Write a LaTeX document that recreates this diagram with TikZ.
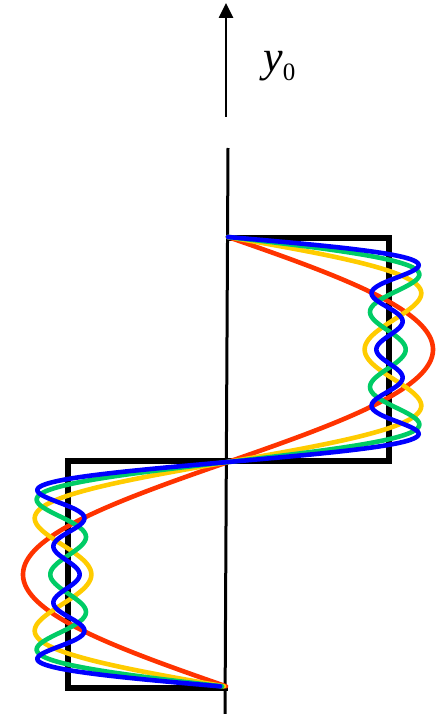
\documentclass[tikz,border=0pt]{standalone}
\usepackage{fontspec}
\setmainfont{Liberation Serif}
\usepackage{tikz}
\usetikzlibrary{arrows.meta}
\definecolor{onecol}{HTML}{FF3300}
\definecolor{twocol}{HTML}{FFCC00}
\definecolor{threecol}{HTML}{00CC66}
\definecolor{fourcol}{HTML}{0000FF}
\newcommand{\amp}{205}
\newcommand{\partsum}[2]{\draw[#1,line width=4.6pt,line cap=round] plot[smooth,domain=0:2,samples=400,variable=\t] ({228+\amp*(#2)},{237+225*\t});}

\begin{document}
\begin{tikzpicture}[x=1pt,y=-1pt]
\useasboundingbox (0,0) rectangle (443,714);
% axis
\coordinate (axtop) at (228,148);
\coordinate (axbot) at (225,714);
\coordinate (arrbot) at (226,117);
\coordinate (arrtip) at (226,3);
\draw[line width=3pt] (axtop) -- (axbot);
\draw[line width=2.6pt,-{Triangle[length=15pt,width=14pt]}] (arrbot) -- (arrtip);
\node[anchor=base west,inner sep=0pt,font=\fontsize{44}{48}\selectfont] (ylbl) at (263,72) {\textit{y}\raisebox{-9pt}{\fontsize{25}{28}\selectfont 0}};

% square wave
\draw[line width=5.5pt,miter limit=10] (228,238) -- (389,238) -- (389,461) -- (68,461) -- (68,688) -- (228,688);

% partial sums
\partsum{onecol}{sin(180*\t)}
\partsum{twocol}{sin(180*\t)+sin(540*\t)/3}
\partsum{threecol}{sin(180*\t)+sin(540*\t)/3+sin(900*\t)/5}
\partsum{fourcol}{sin(180*\t)+sin(540*\t)/3+sin(900*\t)/5+sin(1260*\t)/7}
\end{tikzpicture}
\end{document}
